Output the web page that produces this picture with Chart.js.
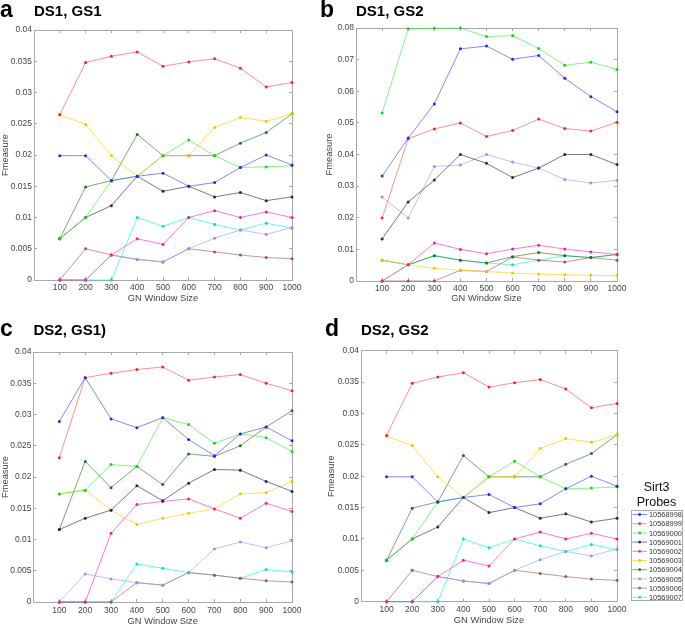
<!DOCTYPE html>
<html><head><meta charset="utf-8">
<script src="https://cdn.jsdelivr.net/npm/chart.js@4.4.1/dist/chart.umd.min.js"></script>
<style>
html,body{margin:0;padding:0;width:685px;height:625px;overflow:hidden;background:#fff;}
canvas{position:absolute;}
svg{position:absolute;left:0;top:0;}
</style></head><body>
<canvas id="ca" width="340" height="310" style="left:0px;top:0px"></canvas>
<canvas id="cb" width="365" height="310" style="left:320px;top:0px"></canvas>
<canvas id="cc" width="340" height="320" style="left:0px;top:310px"></canvas>
<canvas id="cd" width="365" height="320" style="left:320px;top:310px"></canvas>
<svg id="ov" width="685" height="625" xmlns="http://www.w3.org/2000/svg"></svg>
<script>
// ---------- data ----------
const windowSizes = [100, 200, 300, 400, 500, 600, 700, 800, 900, 1000];
const xTickValues = [100, 200, 300, 400, 500, 600, 700, 800, 900, 1000];
const yTicksSmall = [0, 0.005, 0.01, 0.015, 0.02, 0.025, 0.03, 0.035, 0.04];
const yTicksLarge = [0, 0.01, 0.02, 0.03, 0.04, 0.05, 0.06, 0.07, 0.08];
const probes = ['10568998','10568999','10569000','10569001','10569002','10569003','10569004','10569005','10569006','10569007'];
const panelTitles = ['DS1, GS1', 'DS1, GS2', 'DS2, GS1)', 'DS2, GS2'];
const panelLetters = ['a', 'b', 'c', 'd'];

// Panel a: DS1, GS1 (panel d, DS2, GS2, shows the same values)
const A_10568998 = [0.0199,0.0199,0.0159,0.0166,0.0171,0.0150,0.0156,0.0180,0.0200,0.0184];
const A_10568999 = [0.0265,0.0348,0.0358,0.0365,0.0342,0.0349,0.0354,0.0339,0.0309,0.0316];
const A_10569000 = [0.0066,0.0100,0.0159,0.0166,0.0199,0.0224,0.0199,0.0180,0.0181,0.0183];
const A_10569001 = [0.0066,0.0100,0.0119,0.0166,0.0142,0.0150,0.0133,0.0140,0.0127,0.0133];
const A_10569002 = [0,0,0.0040,0.0066,0.0057,0.0100,0.0111,0.0100,0.0109,0.0100];
const A_10569003 = [0.0264,0.0249,0.0199,0.0166,0.0199,0.0199,0.0244,0.0260,0.0254,0.0266];
const A_10569004 = [0.0066,0.0149,0.0159,0.0233,0.0199,0.0199,0.0199,0.0219,0.0236,0.0266];
const A_10569005 = [0,0,0.0040,0.0033,0.0029,0.0050,0.0067,0.0080,0.0073,0.0084];
const A_10569006 = [0,0.0050,0.0040,0.0033,0.0029,0.0050,0.0045,0.0040,0.0036,0.0034];
const A_10569007 = [0,0,0,0.0100,0.0086,0.0100,0.0089,0.0080,0.0091,0.0083];

// Panel b: DS1, GS2
const B_10568998 = [0.0332,0.0452,0.0560,0.0734,0.0743,0.0701,0.0713,0.0641,0.0583,0.0535];
const B_10568999 = [0.0199,0.0450,0.0481,0.0500,0.0457,0.0476,0.0512,0.0482,0.0474,0.0502];
const B_10569000 = [0.0531,0.0798,0.0799,0.0800,0.0773,0.0776,0.0735,0.0682,0.0692,0.0669];
const B_10569001 = [0.0133,0.0250,0.0319,0.0400,0.0372,0.0327,0.0357,0.0400,0.0400,0.0368];
const B_10569002 = [0,0.0051,0.0120,0.0100,0.0086,0.0101,0.0113,0.0101,0.0092,0.0084];
const B_10569003 = [0.0066,0.0051,0.0040,0.0034,0.0030,0.0025,0.0022,0.0020,0.0018,0.0017];
const B_10569004 = [0.0066,0.0051,0.0080,0.0066,0.0057,0.0077,0.0090,0.0080,0.0074,0.0084];
const B_10569005 = [0.0266,0.0199,0.0362,0.0367,0.0400,0.0376,0.0357,0.0321,0.0310,0.0318];
const B_10569006 = [0,0,0,0.0034,0.0030,0.0076,0.0066,0.0060,0.0074,0.0066];
const B_10569007 = [0,0.0051,0.0080,0.0066,0.0057,0.0051,0.0066,0.0080,0.0074,0.0084];

// Panel c: DS2, GS1)
const C_10568998 = [0.0289,0.0359,0.0293,0.0279,0.0295,0.0260,0.0234,0.0269,0.0280,0.0258];
const C_10568999 = [0.0231,0.0359,0.0366,0.0372,0.0376,0.0355,0.0360,0.0364,0.0350,0.0338];
const C_10569000 = [0.0173,0.0179,0.0220,0.0217,0.0295,0.0284,0.0254,0.0269,0.0263,0.0241];
const C_10569001 = [0.0116,0.0134,0.0147,0.0186,0.0162,0.0190,0.0212,0.0211,0.0193,0.0177];
const C_10569002 = [0,0,0.0110,0.0156,0.0161,0.0165,0.0149,0.0134,0.0158,0.0145];
const C_10569003 = [0.0173,0.0179,0.0147,0.0124,0.0134,0.0142,0.0149,0.0173,0.0175,0.0193];
const C_10569004 = [0.0116,0.0225,0.0183,0.0217,0.0188,0.0237,0.0233,0.0250,0.0280,0.0306];
const C_10569005 = [0,0.0045,0.0037,0.0031,0.0027,0.0047,0.0085,0.0096,0.0087,0.0098];
const C_10569006 = [0,0,0,0.0031,0.0027,0.0047,0.0043,0.0038,0.0034,0.0032];
const C_10569007 = [0,0,0,0.0061,0.0054,0.0047,0.0043,0.0038,0.0052,0.0048];

const seriesA = [A_10568998,A_10568999,A_10569000,A_10569001,A_10569002,A_10569003,A_10569004,A_10569005,A_10569006,A_10569007];
const seriesB = [B_10568998,B_10568999,B_10569000,B_10569001,B_10569002,B_10569003,B_10569004,B_10569005,B_10569006,B_10569007];
const seriesC = [C_10568998,C_10568999,C_10569000,C_10569001,C_10569002,C_10569003,C_10569004,C_10569005,C_10569006,C_10569007];
const seriesD = seriesA;

// ---------- styles ----------
const lineColors = ['rgba(70,70,255,0.65)','rgba(255,70,70,0.6)','rgba(60,240,60,0.65)','rgba(30,30,70,0.6)','rgba(255,50,180,0.65)','rgba(255,210,20,0.7)','rgba(30,110,30,0.6)','rgba(150,150,255,0.6)','rgba(160,80,80,0.6)','rgba(20,255,190,0.65)'];
const pointColors = ['#2a2ad0','#e82a2a','#22d022','#262650','#f02090','#f0c400','#267226','#9292f0','#a05454','#10e0a8'];
const FONT = 'Liberation Sans, Arial, Helvetica, sans-serif';
const AX = '#a8a8a8';
const TXT = '#444';
const fmtNum = v => String(parseFloat(Number(v).toFixed(4)));

function makeChart(id, series, yTicks, yMax, title, g) {
  const fix = arr => s => { s.ticks = arr.map(v => ({value: v})); };
  return new Chart(document.getElementById(id), {
    type: 'line',
    data: {
      datasets: series.map((vals, i) => ({
        label: probes[i],
        data: windowSizes.map((x, j) => ({x: x, y: vals[j]})),
        borderColor: lineColors[i],
        backgroundColor: pointColors[i],
        pointBackgroundColor: pointColors[i],
        pointBorderColor: pointColors[i],
        pointRadius: 1.5, pointBorderWidth: 0, pointHoverRadius: 1.5,
        borderWidth: 1, tension: 0, fill: false, clip: 4
      }))
    },
    options: {
      responsive: false, animation: false, events: [],
      layout: {padding: {left: 0, right: g.padR, top: 0, bottom: 0}},
      plugins: {
        legend: {display: false}, tooltip: {enabled: false},
        title: {display: true, text: title, align: 'start', fullSize: false, color: '#000',
          font: {family: FONT, size: 15, weight: 'bold'}, padding: {top: g.tTop, bottom: g.tBot}}
      },
      scales: {
        x: {
          type: 'linear', position: 'bottom', min: 0, max: 1000,
          afterBuildTicks: fix(xTickValues),
          afterFit: s => { s.height = g.xH; },
          ticks: {autoSkip: false, maxRotation: 0, padding: g.xTP, color: TXT, font: {family: FONT, size: 8.5}, callback: v => String(v)},
          grid: {drawOnChartArea: false, tickLength: -3, color: AX},
          border: {color: AX},
          title: {display: true, text: 'GN Window Size', color: TXT, font: {family: FONT, size: 9.3}, padding: {top: 0, bottom: g.xTitleB}}
        },
        y: {
          type: 'linear', position: 'left', min: 0, max: yMax,
          afterBuildTicks: fix(yTicks),
          afterFit: s => { s.width = g.yW; },
          ticks: {padding: 5, color: TXT, font: {family: FONT, size: 8.5}, callback: fmtNum},
          grid: {drawOnChartArea: false, tickLength: -3, color: AX},
          border: {color: AX},
          title: {display: true, text: 'Fmeasure', color: TXT, font: {family: FONT, size: 9.3}, padding: {top: g.yTitleT, bottom: 0}}
        },
        x2: {
          type: 'linear', position: 'top', min: 0, max: 1000,
          afterBuildTicks: fix(xTickValues),
          afterFit: s => { s.height = 0; },
          ticks: {display: false},
          grid: {drawOnChartArea: false, tickLength: -3, color: AX},
          border: {color: AX}
        },
        y2: {
          type: 'linear', position: 'right', min: 0, max: yMax,
          afterBuildTicks: fix(yTicks),
          afterFit: s => { s.width = 0; },
          ticks: {display: false},
          grid: {drawOnChartArea: false, tickLength: -3, color: AX},
          border: {color: AX}
        }
      }
    }
  });
}

makeChart('ca', seriesA, yTicksSmall, 0.04, panelTitles[0], {padR: 48, tTop: 2.4, tBot: 9.6, xH: 30, xTP: 6, xTitleB: 6.4, yW: 34, yTitleT: 0});
makeChart('cb', seriesB, yTicksLarge, 0.08, panelTitles[1], {padR: 68, tTop: 2.4, tBot: 7.6, xH: 29, xTP: 5.2, xTitleB: 6.4, yW: 36, yTitleT: 3.4});
makeChart('cc', seriesC, yTicksSmall, 0.04, panelTitles[2], {padR: 48, tTop: 11.7, tBot: 12.3, xH: 28, xTP: 6.6, xTitleB: 2.7, yW: 33.5, yTitleT: 0});
makeChart('cd', seriesD, yTicksSmall, 0.04, panelTitles[3], {padR: 68, tTop: 11.7, tBot: 11, xH: 28.3, xTP: 6.2, xTitleB: 3.7, yW: 41, yTitleT: 5.9});

// ---------- panel letters and legend (text overlay) ----------
const NS = 'http://www.w3.org/2000/svg';
const ov = document.getElementById('ov');
function el(tag, attrs, text) {
  const e = document.createElementNS(NS, tag);
  for (const k in attrs) e.setAttribute(k, attrs[k]);
  if (text !== undefined) e.textContent = text;
  ov.appendChild(e);
  return e;
}
const letterPos = [[0, 16.5], [320, 16.5], [0, 336], [325, 336]];
panelLetters.forEach((t, i) => el('text', {x: letterPos[i][0], y: letterPos[i][1], 'font-family': FONT, 'font-size': 23, 'font-weight': 'bold', fill: '#000'}, t));

el('text', {x: 656.5, y: 491.3, 'text-anchor': 'middle', 'font-family': FONT, 'font-size': 12.5, fill: '#111'}, 'Sirt3');
el('text', {x: 656.5, y: 505.5, 'text-anchor': 'middle', 'font-family': FONT, 'font-size': 12.5, fill: '#111'}, 'Probes');
el('rect', {x: 631.5, y: 510.5, width: 51, height: 90, fill: '#fff', stroke: '#aaa', 'stroke-width': 1});
probes.forEach((p, i) => {
  const cy = 514.5 + i * 9.2;
  el('line', {x1: 632.5, x2: 647, y1: cy, y2: cy, stroke: lineColors[i], 'stroke-width': 1});
  el('circle', {cx: 639.7, cy: cy, r: 1.4, fill: pointColors[i]});
  el('text', {x: 649, y: cy + 2.7, 'font-family': FONT, 'font-size': 7.4, fill: '#333'}, p);
});
</script>
</body></html>
